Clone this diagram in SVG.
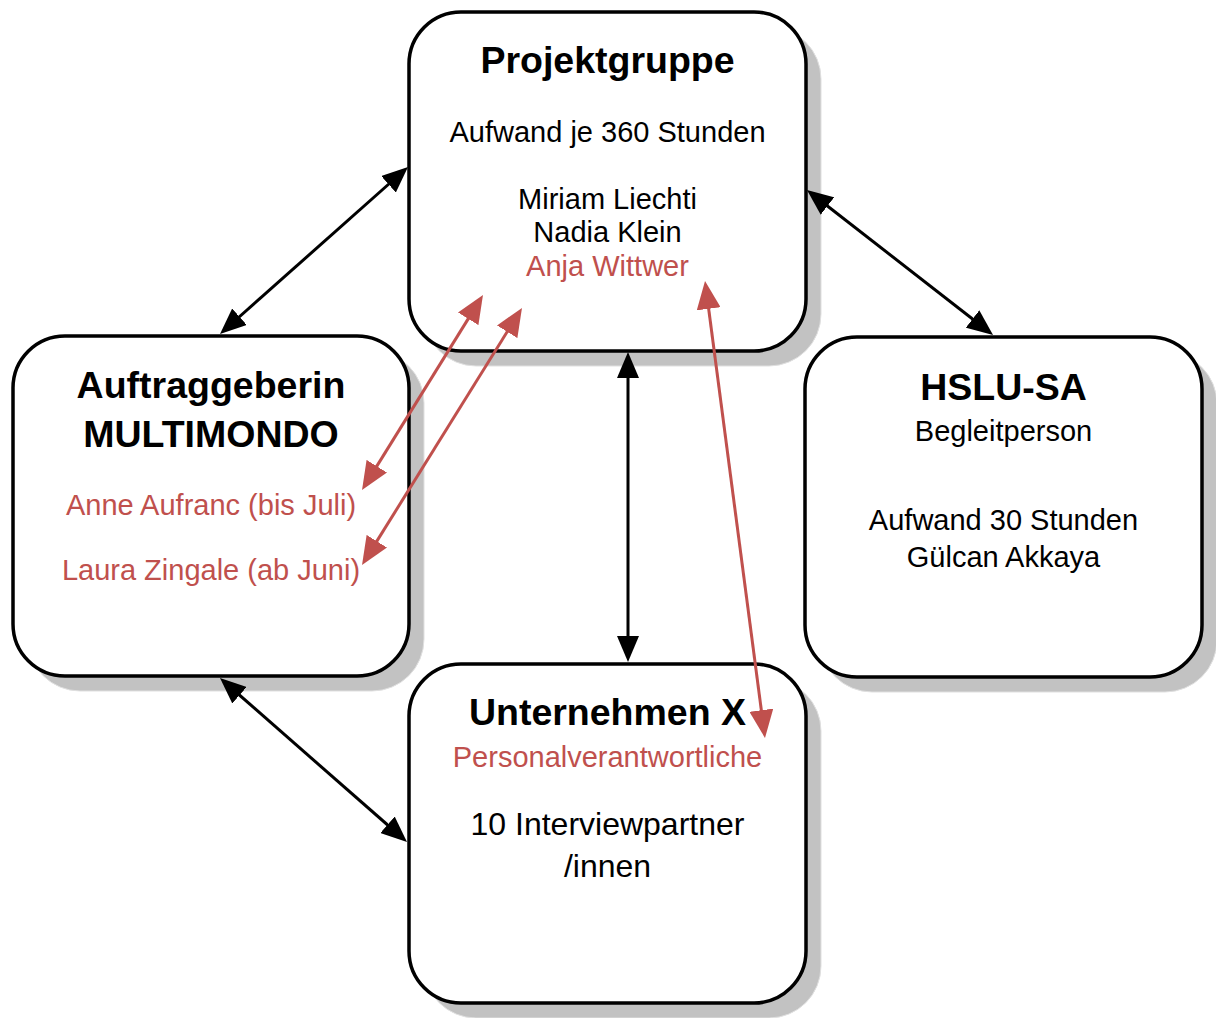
<svg xmlns="http://www.w3.org/2000/svg" width="1216" height="1018" viewBox="0 0 1216 1018">
<style>
.shadow{fill:#c2c2c2;stroke:#e0e0e0;stroke-width:1}
.box{fill:#fff;stroke:#000;stroke-width:3.5}
text{font-family:"Liberation Sans",Arial,sans-serif;text-anchor:middle;fill:#000}
.h{font-weight:bold;font-size:37.5px}
.t{font-size:29px}
.big{font-size:32px}
.red{fill:#c0504d}
.blk{stroke:#000;stroke-width:3;fill:none;marker-start:url(#ab);marker-end:url(#ab)}
.rd{stroke:#c0504d;stroke-width:3;fill:none;marker-start:url(#ar);marker-end:url(#ar)}
</style>
<defs>
<marker id="ab" markerUnits="userSpaceOnUse" viewBox="0 0 26 22" refX="20" refY="11" markerWidth="26" markerHeight="22" orient="auto-start-reverse">
<path d="M0,0 L26,11 L0,22 z" fill="#000"/>
</marker>
<marker id="ar" markerUnits="userSpaceOnUse" viewBox="0 0 28 24" refX="22" refY="12" markerWidth="28" markerHeight="24" orient="auto-start-reverse">
<path d="M0,0 L28,12 L0,24 z" fill="#c0504d"/>
</marker>
</defs>

<g id="projektgruppe">
<rect class="shadow" x="424" y="27" width="397" height="339" rx="52"/>
<rect class="box" x="409" y="12" width="397" height="339" rx="52"/>
<text class="h" x="607.5" y="73">Projektgruppe</text>
<text class="t" x="607.5" y="142">Aufwand je 360 Stunden</text>
<text class="t" x="607.5" y="209">Miriam Liechti</text>
<text class="t" x="607.5" y="242">Nadia Klein</text>
<text class="t red" x="607.5" y="276">Anja Wittwer</text>
</g>

<g id="auftraggeberin">
<rect class="shadow" x="28" y="351" width="396" height="340" rx="52"/>
<rect class="box" x="13" y="336" width="396" height="340" rx="52"/>
<text class="h" x="211" y="398">Auftraggeberin</text>
<text class="h" x="211" y="447">MULTIMONDO</text>
<text class="t red" x="211" y="515">Anne Aufranc (bis Juli)</text>
<text class="t red" x="211" y="580">Laura Zingale (ab Juni)</text>
</g>

<g id="hslu">
<rect class="shadow" x="820" y="352" width="397" height="340" rx="52"/>
<rect class="box" x="805" y="337" width="397" height="340" rx="52"/>
<text class="h" x="1003.5" y="400">HSLU-SA</text>
<text class="t" x="1003.5" y="441">Begleitperson</text>
<text class="t" x="1003.5" y="530">Aufwand 30 Stunden</text>
<text class="t" x="1003.5" y="567">Gülcan Akkaya</text>
</g>

<g id="unternehmen">
<rect class="shadow" x="424" y="679" width="397" height="339" rx="52"/>
<rect class="box" x="409" y="664" width="397" height="339" rx="52"/>
<text class="h" x="607.5" y="725">Unternehmen X</text>
<text class="t red" x="607.5" y="767">Personalverantwortliche</text>
<text class="big" x="607.5" y="835">10 Interviewpartner</text>
<text class="big" x="607.5" y="877">/innen</text>
</g>

<g id="connectors">
<line class="blk" x1="224.5" y1="330" x2="403.5" y2="171"/>
<line class="blk" x1="811.7" y1="193.7" x2="988.3" y2="331.3"/>
<line class="blk" x1="628" y1="358" x2="628" y2="656"/>
<line class="blk" x1="224.5" y1="682" x2="402.5" y2="838"/>
<line class="rd" x1="479.8" y1="300.1" x2="365.2" y2="484.9"/>
<line class="rd" x1="518.8" y1="313.1" x2="365.2" y2="559.9"/>
<line class="rd" x1="705.8" y1="287" x2="764.2" y2="732"/>
</g>
</svg>
